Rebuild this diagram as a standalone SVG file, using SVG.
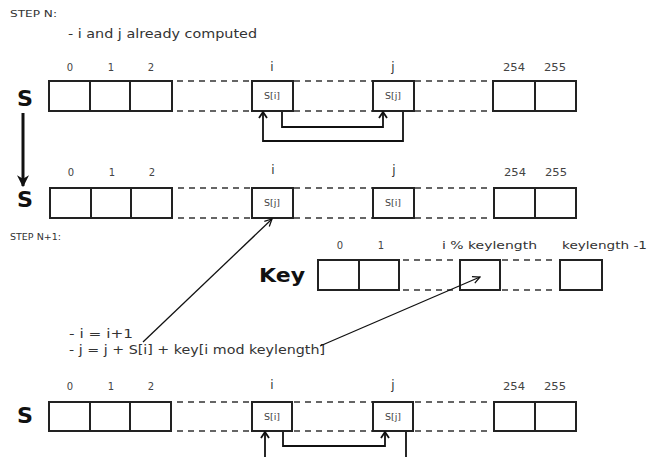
<svg xmlns="http://www.w3.org/2000/svg" width="649" height="457" viewBox="0 0 649 457">
<defs>
<marker id="open" viewBox="0 0 10 10" refX="9" refY="5" markerWidth="10" markerHeight="10" markerUnits="userSpaceOnUse" orient="auto">
<path d="M3,1 L9,5 L3,9" fill="none" stroke="#111" stroke-width="1.8"/>
</marker>
<marker id="thin" viewBox="0 0 10 10" refX="9" refY="5" markerWidth="9" markerHeight="9" markerUnits="userSpaceOnUse" orient="auto">
<path d="M1,1 L9,5 L1,9" fill="none" stroke="#111" stroke-width="1.4"/>
</marker>
<marker id="solid" viewBox="0 0 10 10" refX="5" refY="9" markerWidth="12" markerHeight="12" markerUnits="userSpaceOnUse" orient="0">
<path d="M0,0 L5,3 L10,0 L5,10 Z" fill="#111"/>
</marker>
</defs>
<style>
.cell{fill:#fff;stroke:#222;stroke-width:2}
.dash{stroke:#333;stroke-width:1.5;stroke-dasharray:6 5;fill:none}
.t{font-family:"DejaVu Sans",sans-serif;fill:#333}
.lbl{font-family:"DejaVu Sans",sans-serif;font-size:10px;fill:#444;text-anchor:middle}
.idx{font-family:"DejaVu Sans",sans-serif;font-size:12px;fill:#333;text-anchor:middle}
.in{font-family:"DejaVu Sans",sans-serif;font-size:9.5px;fill:#444;text-anchor:middle}
.big{font-family:"DejaVu Sans",sans-serif;font-weight:bold;fill:#111}
.con{fill:none;stroke:#111;stroke-width:1.8}
.ptr{fill:none;stroke:#111;stroke-width:1.3}
</style>

<text class="t" x="10" y="17" font-size="9.5" textLength="47" lengthAdjust="spacingAndGlyphs">STEP N:</text>
<text class="t" x="68" y="38" font-size="12" textLength="189" lengthAdjust="spacingAndGlyphs">- i and j already computed</text>

<g id="row1">
<text class="big" x="17" y="106" font-size="21" textLength="16" lengthAdjust="spacingAndGlyphs">S</text>
<text class="lbl" x="70" y="71">0</text><text class="lbl" x="111" y="71">1</text><text class="lbl" x="151" y="71">2</text>
<text class="idx" x="272" y="71">i</text><text class="idx" x="393" y="71">j</text>
<text class="lbl" x="514" y="71" textLength="22" lengthAdjust="spacingAndGlyphs">254</text><text class="lbl" x="555" y="71" textLength="22" lengthAdjust="spacingAndGlyphs">255</text>
<rect class="cell" x="49" y="81" width="41" height="30"/><rect class="cell" x="90" y="81" width="40" height="30"/><rect class="cell" x="130" y="81" width="42" height="30"/>
<path class="dash" d="M177,81H250M177,111H250M294,81H372M294,111H372M415,81H490M415,111H490"/>
<rect class="cell" x="252" y="81" width="41" height="30"/><text class="in" x="272" y="99">S[i]</text>
<rect class="cell" x="373" y="81" width="41" height="30"/><text class="in" x="393" y="99">S[j]</text>
<rect class="cell" x="493" y="81" width="42" height="30"/><rect class="cell" x="535" y="81" width="41" height="30"/>
</g>

<g id="row2">
<text class="big" x="17" y="207" font-size="21" textLength="16" lengthAdjust="spacingAndGlyphs">S</text>
<text class="lbl" x="71" y="176">0</text><text class="lbl" x="112" y="176">1</text><text class="lbl" x="152" y="176">2</text>
<text class="idx" x="273" y="174">i</text><text class="idx" x="394" y="174">j</text>
<text class="lbl" x="515" y="176" textLength="22" lengthAdjust="spacingAndGlyphs">254</text><text class="lbl" x="556" y="176" textLength="22" lengthAdjust="spacingAndGlyphs">255</text>
<rect class="cell" x="50" y="188" width="41" height="30"/><rect class="cell" x="91" y="188" width="40" height="30"/><rect class="cell" x="131" y="188" width="41" height="30"/>
<path class="dash" d="M178,188H250M178,218H250M294,188H372M294,218H372M415,188H490M415,218H490"/>
<rect class="cell" x="252" y="188" width="41" height="30"/><text class="in" x="272" y="206">S[j]</text>
<rect class="cell" x="373" y="188" width="41" height="30"/><text class="in" x="393" y="206">S[i]</text>
<rect class="cell" x="494" y="188" width="41" height="30"/><rect class="cell" x="535" y="188" width="41" height="30"/>
</g>

<text class="t" x="10" y="240" font-size="9.5" textLength="51" lengthAdjust="spacingAndGlyphs">STEP N+1:</text>

<g id="key">
<text class="big" x="259" y="282" font-size="19" textLength="46" lengthAdjust="spacingAndGlyphs">Key</text>
<text class="lbl" x="340" y="249">0</text><text class="lbl" x="381" y="249">1</text>
<text class="t" x="442" y="249" font-size="11" textLength="95" lengthAdjust="spacingAndGlyphs">i % keylength</text>
<text class="t" x="562" y="249" font-size="11" textLength="85" lengthAdjust="spacingAndGlyphs">keylength -1</text>
<rect class="cell" x="318" y="260" width="41" height="30"/><rect class="cell" x="359" y="260" width="40" height="30"/>
<path class="dash" d="M403,260H458M403,290H458M502,260H556M502,290H556"/>
<rect class="cell" x="460" y="260" width="40" height="30"/>
<rect class="cell" x="560" y="260" width="42" height="30"/>
</g>

<g id="ops">
<text class="t" x="69" y="338" font-size="12" textLength="64" lengthAdjust="spacingAndGlyphs">- i = i+1</text>
<text class="t" x="69" y="354" font-size="12" textLength="256" lengthAdjust="spacingAndGlyphs">- j = j + S[i] + key[i mod keylength]</text>
</g>

<g id="row3">
<text class="big" x="17" y="423" font-size="21" textLength="16" lengthAdjust="spacingAndGlyphs">S</text>
<text class="lbl" x="70" y="390">0</text><text class="lbl" x="111" y="390">1</text><text class="lbl" x="151" y="390">2</text>
<text class="idx" x="272" y="389">i</text><text class="idx" x="393" y="389">j</text>
<text class="lbl" x="514" y="390" textLength="22" lengthAdjust="spacingAndGlyphs">254</text><text class="lbl" x="555" y="390" textLength="22" lengthAdjust="spacingAndGlyphs">255</text>
<rect class="cell" x="49" y="402" width="41" height="29"/><rect class="cell" x="90" y="402" width="40" height="29"/><rect class="cell" x="130" y="402" width="41" height="29"/>
<path class="dash" d="M177,402H250M177,431H250M294,402H372M294,431H372M415,402H490M415,431H490"/>
<rect class="cell" x="252" y="402" width="40" height="29"/><text class="in" x="272" y="420">S[i]</text>
<rect class="cell" x="373" y="402" width="40" height="29"/><text class="in" x="393" y="420">S[j]</text>
<rect class="cell" x="494" y="402" width="41" height="29"/><rect class="cell" x="535" y="402" width="41" height="29"/>
</g>

<g id="connectors">
<path class="con" d="M282,112V127H383V112" marker-end="url(#open)"/>
<path class="con" d="M403,112V141H263V112" marker-end="url(#open)"/>
<path d="M23,113V186" stroke="#111" stroke-width="3" fill="none" marker-end="url(#solid)"/>
<path class="ptr" d="M143,342L272,219" marker-end="url(#thin)"/>
<path class="ptr" d="M320,346L480,277" marker-end="url(#thin)"/>
<path class="con" d="M283,432V446H385V432" marker-end="url(#open)"/>
<path class="con" d="M406,432V457"/>
<path class="con" d="M265,457V432" marker-end="url(#open)"/>
</g>
</svg>
